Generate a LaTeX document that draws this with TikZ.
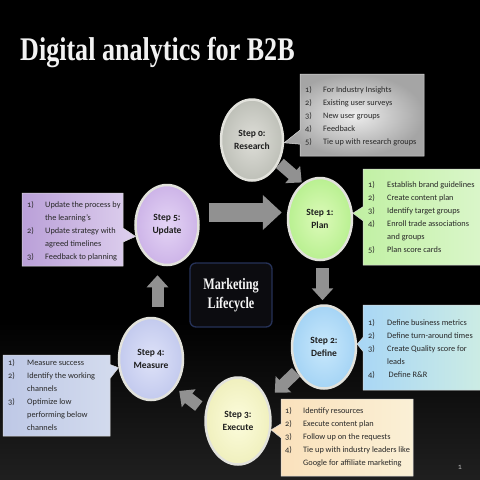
\documentclass[tikz,border=0pt]{standalone}
\usepackage{fontspec}
\setmainfont{Carlito}[Numbers=OldStyle]
\newfontfamily\tfont{Liberation Serif}
\usetikzlibrary{shapes.geometric,shapes.callouts,arrows.meta}
\definecolor{bglow}{RGB}{78,78,78}
\definecolor{rimcol}{RGB}{226,226,220}
\definecolor{stepink}{RGB}{30,30,30}
\definecolor{listink}{RGB}{40,40,40}
\definecolor{arrowgray}{RGB}{145,145,145}
\definecolor{mkborder}{RGB}{38,50,88}
\definecolor{mkfill}{RGB}{12,12,16}
\pgfdeclareverticalshading{bgshade}{100bp}{color(0bp)=(bglow); color(42bp)=(black); color(100bp)=(black)}
\newcommand\cond[2]{\scalebox{#1}[1]{#2}}
\begin{document}
\begin{tikzpicture}[x=1pt,y=-1pt,
  stepnode/.style={ellipse, inner sep=0pt, draw=rimcol, line width=2.5pt,
    font=\fontsize{9.5}{13}\selectfont\bfseries, align=center, text=stepink},
  callbox/.style={rectangle callout, inner sep=0pt, draw=white!70!gray, line width=0.5pt,
    callout pointer width=14pt},
  listtxt/.style={anchor=west, inner sep=0pt, font=\fontsize{8.3}{13}\selectfont, text=listink},
  barrow/.style={draw=arrowgray, line cap=butt}]
\useasboundingbox (0,0) rectangle (480,480);
\shade[shading=bgshade] (0,0) rectangle (480,480);

% title
\node[anchor=base west, inner sep=0pt, font=\tfont\bfseries\fontsize{33}{33}\selectfont, text=white!90!gray]
  (title) at (20,60) {\cond{0.79}{Digital analytics for B2B}};

% steps
\node[stepnode, minimum width=62pt, minimum height=81pt, inner color={rgb,255:red,222;green,222;blue,216}, outer color={rgb,255:red,190;green,192;blue,184}]
  (res) at (252,140) {Step 0:\\Research};
\node[stepnode, minimum width=64pt, minimum height=82pt, inner color={rgb,255:red,220;green,250;blue,185}, outer color={rgb,255:red,185;green,240;blue,145}]
  (plan) at (320,219) {Step 1:\\Plan};
\node[stepnode, minimum width=63pt, minimum height=80pt, inner color={rgb,255:red,228;green,212;blue,245}, outer color={rgb,255:red,205;green,180;blue,232}]
  (upd) at (167,225) {Step 5:\\Update};
\node[stepnode, minimum width=64pt, minimum height=83pt, inner color={rgb,255:red,200;green,232;blue,252}, outer color={rgb,255:red,165;green,212;blue,245}]
  (def) at (324,347) {Step 2:\\Define};
\node[stepnode, minimum width=65pt, minimum height=87pt, inner color={rgb,255:red,252;green,252;blue,220}, outer color={rgb,255:red,240;green,240;blue,190}]
  (exe) at (238,421) {Step 3:\\Execute};
\node[stepnode, minimum width=64pt, minimum height=82pt, inner color={rgb,255:red,222;green,226;blue,248}, outer color={rgb,255:red,195;green,202;blue,238}]
  (meas) at (151,359) {Step 4:\\Measure};

% centre box
\node[draw=mkborder, fill=mkfill, line width=1.3pt, rounded corners=6pt, minimum width=82pt, minimum height=64pt,
  align=center, text=white!92!gray, font=\tfont\bfseries\fontsize{16}{19}\selectfont]
  (mk) at (231,295) {\cond{0.76}{Marketing}\\\cond{0.76}{Lifecycle}};

% block arrows
\draw[barrow, line width=12pt, -{Triangle[length=12pt,width=22pt]}, shorten <=1pt, shorten >=1pt]
  (res.-40) -- (plan.116);
\draw[barrow, line width=19pt, -{Triangle[length=19pt,width=34pt]}, shorten <=9pt, shorten >=5pt]
  ([yshift=12.5pt]upd.east) -- ([yshift=6.5pt]plan.west);
\draw[barrow, line width=13pt, -{Triangle[length=12pt,width=21pt]}, shorten <=7pt, shorten >=4pt]
  ([xshift=2.5pt]plan.south) -- ([xshift=-1.5pt]def.north);
\draw[barrow, line width=12pt, -{Triangle[length=12pt,width=22pt]}, shorten <=1pt, shorten >=10pt]
  (def.222) -- (exe.36);
\draw[barrow, line width=12pt, -{Triangle[length=12pt,width=22pt]}, shorten <=8pt, shorten >=5pt]
  (exe.163) -- (meas.-50);
\draw[barrow, line width=12pt, -{Triangle[length=12pt,width=21pt]}, shorten <=10pt, shorten >=9pt]
  ([xshift=6.5pt]meas.north) -- ([xshift=-9.5pt]upd.south);

% callouts
\node[callbox, minimum width=124pt, minimum height=82pt, inner color={rgb,255:red,238;green,238;blue,238}, outer color={rgb,255:red,165;green,165;blue,165},
  callout absolute pointer={(res.-5)}] (resbox) at (362,115) {};
\node[listtxt] (restxt) at (305,115.4) {\begin{tabular}{@{}p{18pt}@{}l@{}}
1) & For Industry Insights\\ 2) & Existing user surveys\\ 3) & New user groups\\ 4) & Feedback\\ 5) & Tie up with research groups
\end{tabular}};

\node[callbox, minimum width=118pt, minimum height=96pt, left color={rgb,255:red,192;green,240;blue,162}, right color={rgb,255:red,218;green,246;blue,202},
  callout absolute pointer={(plan.10)}] (planbox) at (422,217) {};
\node[listtxt] (plantxt) at (368,217.5) {\begin{tabular}{@{}p{19pt}@{}l@{}}
1) & Establish brand guidelines\\ 2) & Create content plan\\ 3) & Identify target groups\\ 4) & Enroll trade associations\\ & and groups\\ 5) & Plan score cards
\end{tabular}};

\node[callbox, minimum width=101pt, minimum height=73pt, left color={rgb,255:red,186;green,160;blue,216}, right color={rgb,255:red,222;green,208;blue,238},
  callout absolute pointer={(upd.200)}] (updbox) at (72.5,229.5) {};
\node[listtxt] (updtxt) at (27,231) {\begin{tabular}{@{}p{18pt}@{}l@{}}
1) & Update the process by\\ & the learning's\\ 2) & Update strategy with\\ & agreed timelines\\ 3) & Feedback to planning
\end{tabular}};

\node[callbox, minimum width=118pt, minimum height=85pt, left color={rgb,255:red,168;green,214;blue,246}, right color={rgb,255:red,204;green,236;blue,228},
  callout absolute pointer={(def.5)}] (defbox) at (422,347.5) {};
\node[listtxt] (deftxt) at (368,348.5) {\begin{tabular}{@{}p{19pt}@{}l@{}}
1) & Define business metrics\\ 2) & Define turn-around times\\ 3) & Create Quality score for\\ & leads\\ 4) & \hspace{1.5pt}Define R\&R
\end{tabular}};

\node[callbox, minimum width=132pt, minimum height=77pt, left color={rgb,255:red,250;green,224;blue,186}, right color={rgb,255:red,250;green,240;blue,214},
  callout absolute pointer={(exe.-15)}] (exebox) at (347,437.5) {};
\node[listtxt] (exetxt) at (285,437) {\begin{tabular}{@{}p{18pt}@{}l@{}}
1) & Identify resources\\ 2) & Execute content plan\\ 3) & Follow up on the requests\\ 4) & Tie up with industry leaders like\\ & Google for affiliate marketing
\end{tabular}};

\node[callbox, minimum width=107pt, minimum height=81pt, left color={rgb,255:red,190;green,200;blue,230}, right color={rgb,255:red,212;green,220;blue,238},
  callout absolute pointer={(meas.195)}] (measbox) at (56.5,395.5) {};
\node[listtxt] (meastxt) at (8,395.5) {\begin{tabular}{@{}p{19pt}@{}l@{}}
1) & Measure success\\ 2) & Identify the working\\ & channels\\ 3) & Optimize low\\ & performing below\\ & channels
\end{tabular}};

% page number
\node[inner sep=0pt, font=\fontsize{8}{9}\selectfont, text=gray!60] (pnum) at (460,467) {1};
\end{tikzpicture}
\end{document}
